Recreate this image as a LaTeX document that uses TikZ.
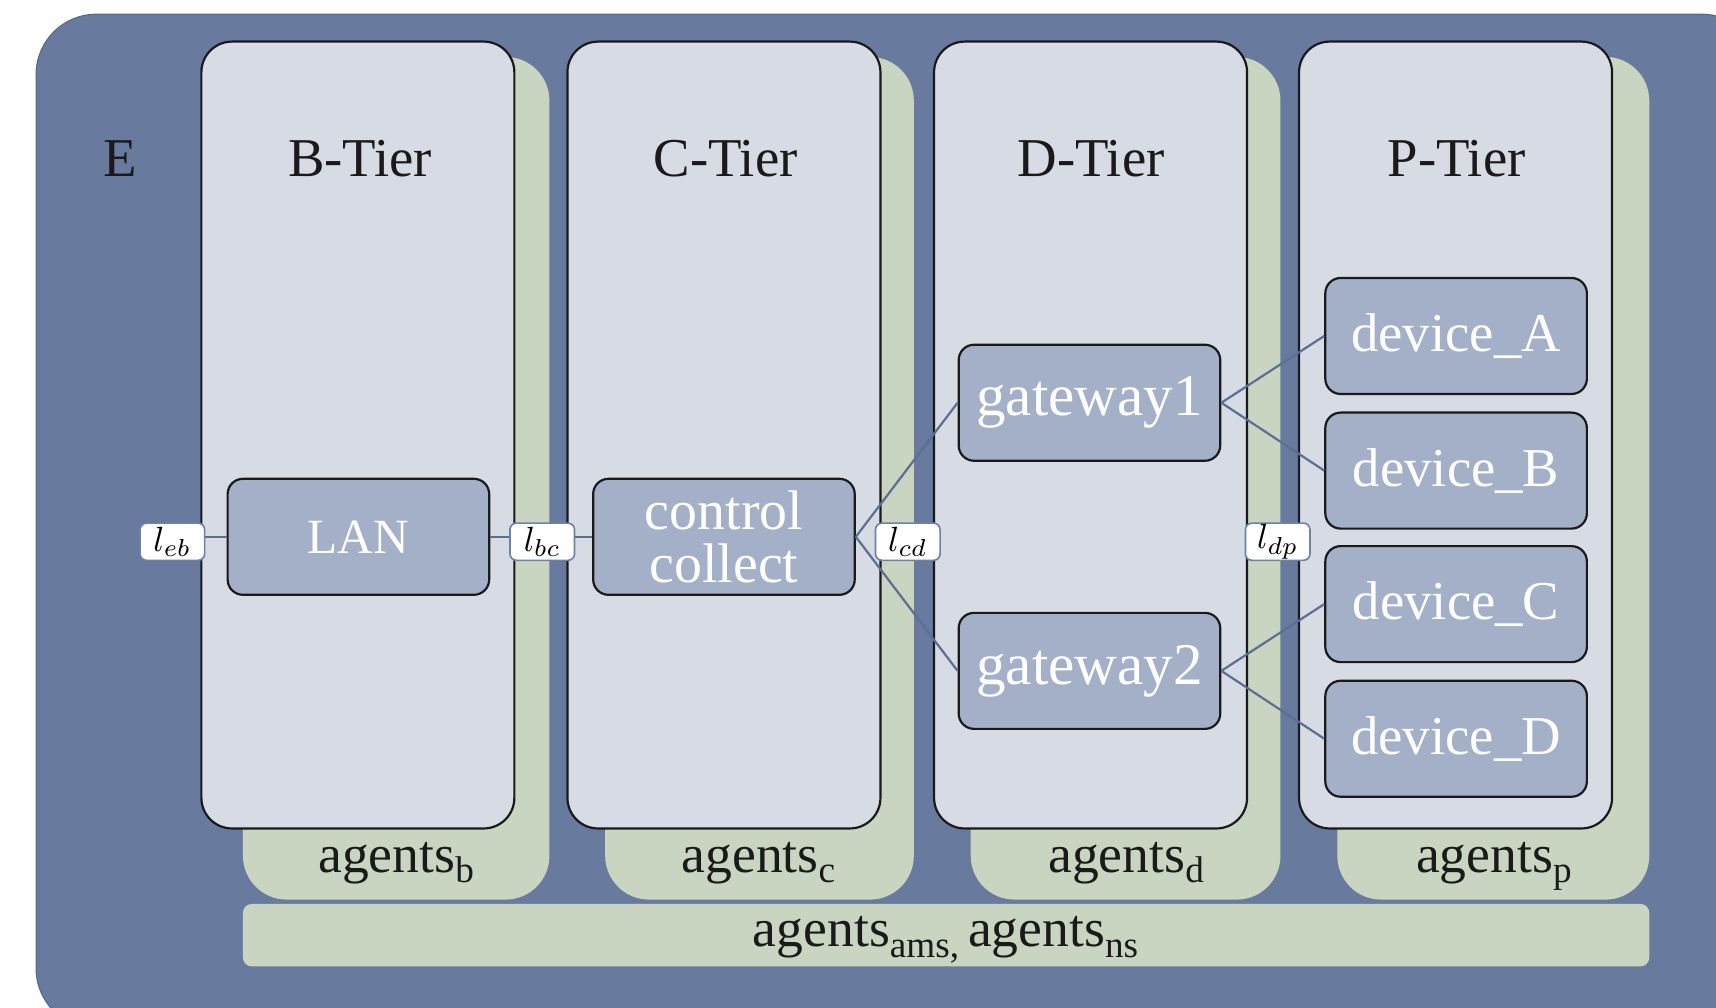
\documentclass[tikz,border=0pt]{standalone}
\usepackage{fontspec}
\setmainfont{Liberation Serif}
\definecolor{outerblue}{HTML}{687B9E}
\definecolor{outeredge}{HTML}{55688C}
\definecolor{tierfill}{HTML}{D7DBE4}
\definecolor{agreen}{HTML}{C9D5C1}
\definecolor{itemfill}{HTML}{A3B0C8}
\definecolor{linecol}{HTML}{5B6E93}
\definecolor{linkborder}{HTML}{6E82A6}
\definecolor{inkblack}{HTML}{1A1A1A}
\newcommand{\sbs}[1]{\raisebox{-0.2em}{\fontsize{34}{34}\selectfont #1}}
\newcommand{\lnk}[1]{\scalebox{3.2}{$l_{#1}$}}
\begin{document}
\begin{tikzpicture}[x=1pt,y=-1pt,
  tier/.style={draw=inkblack, line width=2pt, fill=tierfill, rounded corners=28pt, inner sep=0pt, minimum width=286pt, minimum height=719pt},
  item/.style={draw=inkblack, line width=2pt, fill=itemfill, rounded corners=14pt, minimum width=239pt, minimum height=106pt, inner sep=0pt, text=white, font=\fontsize{50}{47}\selectfont, align=center},
  linkbox/.style={draw=linkborder, line width=1.5pt, fill=white, rounded corners=6pt, minimum width=59pt, minimum height=34pt, inner sep=0pt},
  conn/.style={draw=linecol, line width=2pt},
  agentbox/.style={fill=agreen, rounded corners=40pt},
  title/.style={font=\fontsize{50}{60}\selectfont, text=inkblack},
  agentlbl/.style={font=\fontsize{49}{50}\selectfont, text=inkblack, anchor=base}]
\useasboundingbox (0,0) rectangle (1568,921);
\clip (0,0) rectangle (1568,921);
\fill[white] (0,0) rectangle (1568,921);
% outer environment
\draw[fill=outerblue, draw=outeredge, line width=1pt, rounded corners=55pt] (33,13) rectangle (1610,940);
% agent boxes
\fill[agentbox] (222,52) rectangle (502,822);
\fill[agentbox] (553,52) rectangle (835,822);
\fill[agentbox] (887,52) rectangle (1170,822);
\fill[agentbox] (1222,52) rectangle (1507,822);
\fill[agreen, rounded corners=8pt] (222,826) rectangle (1507,883);
% tiers
\node[tier] (btier) at (327,397.5) {};
\node[tier] (ctier) at (661.5,397.5) {};
\node[tier] (dtier) at (996.5,397.5) {};
\node[tier] (ptier) at (1330,397.5) {};
% titles
\node[title] (etitle) at (110,145) {E};
\node[title] (btitle) at (329,145) {B-Tier};
\node[title] (ctitle) at (663,145) {C-Tier};
\node[title] (dtitle) at (997,145) {D-Tier};
\node[title] (ptitle) at (1331,145) {P-Tier};
% agent labels
\node[agentlbl] (agb) at (362,797) {agents\sbs{b}};
\node[agentlbl] (agc) at (693,797) {agents\sbs{c}};
\node[agentlbl] (agd) at (1029,797) {agents\sbs{d}};
\node[agentlbl] (agp) at (1365,797) {agents\sbs{p}};
\node[agentlbl] (agall) at (864,865) {agents\sbs{ams,}\,agents\sbs{ns}};
% items
\node[item, font=\fontsize{45}{47}\selectfont] (lan) at (327.5,490.5) {LAN};
\node[item, font=\fontsize{51}{48}\selectfont] (ctrl) at (661.5,490.5) {control\\collect};
\node[item, font=\fontsize{54}{47}\selectfont] (gw1) at (995.5,368) {gateway1};
\node[item, font=\fontsize{54}{47}\selectfont] (gw2) at (995.5,613) {gateway2};
\node[item] (devA) at (1330.5,307) {device\_A};
\node[item] (devB) at (1330.5,430) {device\_B};
\node[item] (devC) at (1330.5,552) {device\_C};
\node[item] (devD) at (1330.5,675) {device\_D};
% link labels
\node[linkbox] (leb) at (157.5,495) {\lnk{eb}};
\node[linkbox] (lbc) at (495.5,495) {\lnk{bc}};
\node[linkbox] (lcd) at (829.5,495) {\lnk{cd}};
\node[linkbox] (ldp) at (1167.5,495) {\lnk{dp}};
% connectors
\draw[conn] (lan.west) -- (lan.west -| leb.east);
\draw[conn] (lan.east) -- (lan.east -| lbc.west);
\draw[conn] (ctrl.west -| lbc.east) -- (ctrl.west);
\draw[conn] (ctrl.east) -- (gw1.west);
\draw[conn] (ctrl.east) -- (gw2.west);
\draw[conn] (gw1.east) -- (devA.west);
\draw[conn] (gw1.east) -- (devB.west);
\draw[conn] (gw2.east) -- (devC.west);
\draw[conn] (gw2.east) -- (devD.west);
\end{tikzpicture}
\end{document}
